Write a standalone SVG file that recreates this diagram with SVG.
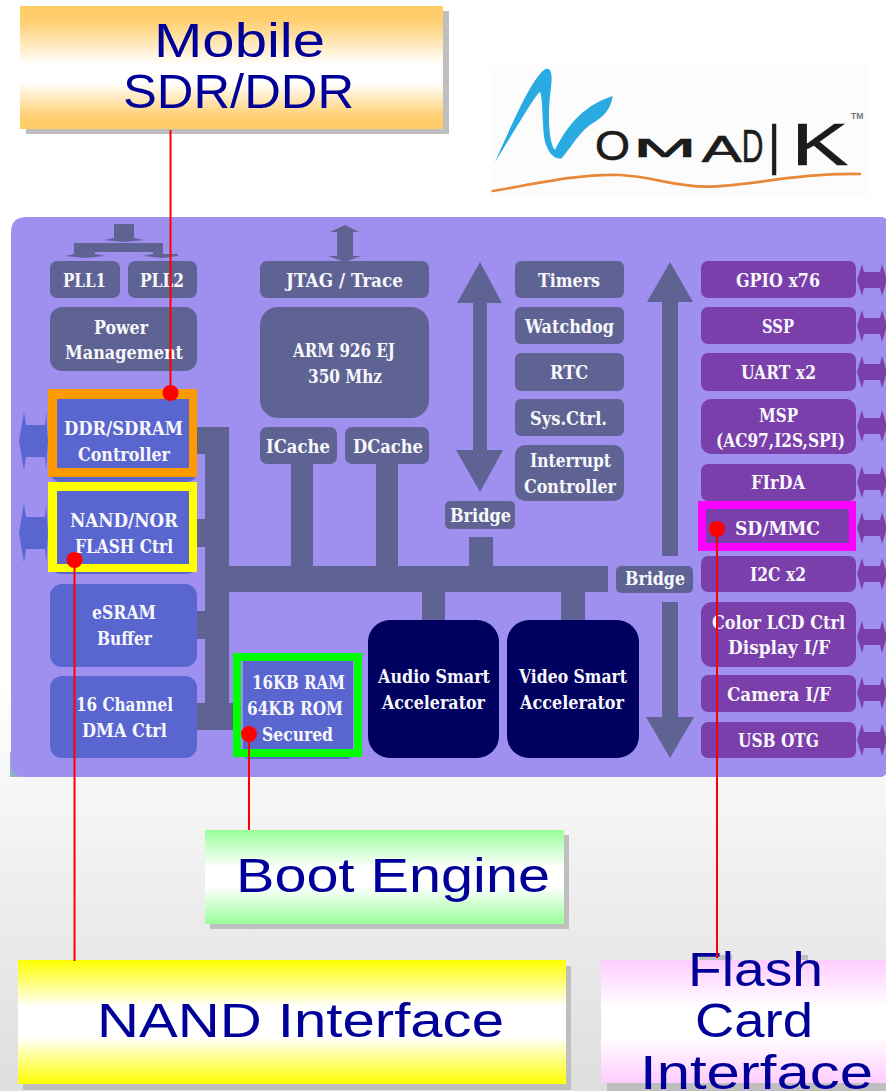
<svg xmlns="http://www.w3.org/2000/svg" width="886" height="1091" viewBox="0 0 886 1091">
<style>
.t{font-family:"DejaVu Serif","Liberation Serif",serif;font-weight:700;font-size:19px;fill:#f8f8fc;}
.c{font-family:"Liberation Sans",Arial,sans-serif;font-size:49px;fill:#000099;}
.g{fill:#5f6393;}.b{fill:#5a66cf;}.p{fill:#7a3faa;}.n{fill:#000060;}
.s{fill:#bfbfbf;}
.l{stroke:#f00;stroke-width:2;fill:none;}
.d{fill:#f00;}
</style>
<defs>
<linearGradient id="bg" x1="0" y1="0" x2="0" y2="1"><stop offset="0.62" stop-color="#fff"/><stop offset="1" stop-color="#dedede"/></linearGradient>
<linearGradient id="go" x1="0" y1="0" x2="0" y2="1"><stop offset="0" stop-color="#ffcc66"/><stop offset=".12" stop-color="#ffcf70"/><stop offset=".48" stop-color="#fff"/><stop offset=".62" stop-color="#fff"/><stop offset=".9" stop-color="#ffcf70"/><stop offset="1" stop-color="#ffcc66"/></linearGradient>
<linearGradient id="gg" x1="0" y1="0" x2="0" y2="1"><stop offset="0" stop-color="#99ff99"/><stop offset=".4" stop-color="#fff"/><stop offset=".6" stop-color="#fff"/><stop offset="1" stop-color="#99ff99"/></linearGradient>
<linearGradient id="gy" x1="0" y1="0" x2="0" y2="1"><stop offset="0" stop-color="#ffff00"/><stop offset=".38" stop-color="#fff"/><stop offset=".62" stop-color="#fff"/><stop offset="1" stop-color="#ffff00"/></linearGradient>
<linearGradient id="gp" x1="0" y1="0" x2="0" y2="1"><stop offset="0" stop-color="#ffccff"/><stop offset=".38" stop-color="#fff"/><stop offset=".62" stop-color="#fff"/><stop offset="1" stop-color="#ffccff"/></linearGradient>
<path id="ioR" d="M857 0L862 -16L864 -8H880L882 -16L887 0L882 16L880 8H864L862 16Z"/>
</defs>
<rect width="886" height="1091" fill="url(#bg)"/>

<g id="logo" transform="translate(480 50) scale(.3333)">
<rect x="30" y="45" width="1135" height="395" fill="#fdfcfd"/>
<path fill="#29aae1" d="M45 335C90 240 150 90 195 58C215 50 218 75 212 120C203 190 205 280 225 300C255 240 300 170 398 138C395 165 380 195 345 215C300 240 275 290 245 325C225 330 205 310 195 275C185 220 190 150 180 125C165 135 100 250 45 335Z"/>
<path fill="none" stroke="#e8893a" stroke-width="8" stroke-linecap="round" d="M38 423C150 405 300 370 420 375C520 380 580 410 680 410C800 410 950 368 1140 372"/>
<text font-family="'Liberation Sans',sans-serif" fill="#1c1c1c" stroke="#1c1c1c" stroke-width="2"><tspan x="345" y="330" font-size="130" textLength="105" lengthAdjust="spacingAndGlyphs">O</tspan><tspan x="460" y="322" font-size="80" textLength="190" lengthAdjust="spacingAndGlyphs">M</tspan><tspan x="665" y="335" font-size="110" textLength="120" lengthAdjust="spacingAndGlyphs">A</tspan><tspan x="785" y="335" font-size="140" textLength="65" lengthAdjust="spacingAndGlyphs">D</tspan><tspan x="865" y="375" font-size="220" textLength="35" lengthAdjust="spacingAndGlyphs">I</tspan><tspan x="935" y="345" font-size="180" textLength="170" lengthAdjust="spacingAndGlyphs">K</tspan></text>
<text x="1113" y="208" font-family="'Liberation Sans',sans-serif" font-size="26" font-weight="700" fill="#777">TM</text>
</g>

<g id="panel">
<path d="M10 752H32V777H10Z" fill="#8fb3c4"/>
<path d="M27 217H881Q887 217 887 223V769Q887 777 879 777H26Q11 777 11 762V232Q11 217 27 217Z" fill="#9f90f0"/>
</g>

<g id="mobile-sdr-ddr"><rect class="s" x="26" y="11" width="423" height="123"/><rect x="20" y="6" width="423" height="123" fill="url(#go)"/><text class="c" x="154" y="57" textLength="171" lengthAdjust="spacingAndGlyphs">Mobile</text><text class="c" x="123" y="108" textLength="231" lengthAdjust="spacingAndGlyphs">SDR/DDR</text></g>
<g id="boot-engine"><rect class="s" x="210" y="835" width="359" height="94"/><rect x="205" y="830" width="359" height="94" fill="url(#gg)"/><text class="c" x="236" y="892" textLength="314" lengthAdjust="spacingAndGlyphs">Boot Engine</text></g>
<g id="nand-interface"><rect class="s" x="23" y="966" width="548" height="124"/><rect x="18" y="960" width="548" height="124" fill="url(#gy)"/><text class="c" x="97" y="1037" textLength="407" lengthAdjust="spacingAndGlyphs">NAND Interface</text></g>
<g id="flash-card-interface"><rect class="s" x="699" y="955" width="33" height="6"/><rect class="s" x="797" y="955" width="11" height="6"/><rect class="s" x="607" y="966" width="279" height="125"/><rect x="601" y="960" width="285" height="123" fill="url(#gp)"/><text class="c" x="688" y="986" textLength="135" lengthAdjust="spacingAndGlyphs">Flash</text><text class="c" x="695" y="1037" textLength="118" lengthAdjust="spacingAndGlyphs">Card</text><text class="c" x="640" y="1089" textLength="233" lengthAdjust="spacingAndGlyphs">Interface</text></g>

<g id="pll1"><rect class="g" x="50" y="261" width="70" height="37" rx="7"/><text class="t" x="63" y="287" textLength="43" lengthAdjust="spacingAndGlyphs">PLL1</text></g>
<g id="pll2"><rect class="g" x="128" y="261" width="69" height="37" rx="7"/><text class="t" x="140" y="287" textLength="44" lengthAdjust="spacingAndGlyphs">PLL2</text></g>
<g id="power"><rect class="g" x="50" y="307" width="147" height="64" rx="12"/><text class="t" x="94" y="334" textLength="54" lengthAdjust="spacingAndGlyphs">Power</text><text class="t" x="65" y="359" textLength="118" lengthAdjust="spacingAndGlyphs">Management</text></g>
<g id="jtag"><rect class="g" x="260" y="261" width="169" height="37" rx="7"/><text class="t" x="286" y="287" textLength="117" lengthAdjust="spacingAndGlyphs">JTAG / Trace</text></g>
<g id="arm"><rect class="g" x="260" y="307" width="169" height="111" rx="18"/><text class="t" x="293" y="357" textLength="102" lengthAdjust="spacingAndGlyphs">ARM 926 EJ</text><text class="t" x="308" y="383" textLength="74" lengthAdjust="spacingAndGlyphs">350 Mhz</text></g>
<g id="icache"><rect class="g" x="260" y="427" width="77" height="37" rx="7"/><text class="t" x="266" y="453" textLength="64" lengthAdjust="spacingAndGlyphs">ICache</text></g>
<g id="dcache"><rect class="g" x="345" y="427" width="84" height="37" rx="7"/><text class="t" x="353" y="453" textLength="70" lengthAdjust="spacingAndGlyphs">DCache</text></g>

<g id="ddr"><rect class="b" x="50" y="392" width="147" height="90" rx="10"/><path fill="#ff9900" fill-rule="evenodd" d="M48 389H197V477H48ZM57 399V468H189V399Z"/><text class="t" x="64" y="435" textLength="119" lengthAdjust="spacingAndGlyphs">DDR/SDRAM</text><text class="t" x="78" y="461" textLength="92" lengthAdjust="spacingAndGlyphs">Controller</text></g>
<g id="nand"><rect class="b" x="50" y="484" width="147" height="90" rx="10"/><path fill="#ffff00" fill-rule="evenodd" d="M48 482H197V572H48ZM57 491V564H189V491Z"/><text class="t" x="70" y="527" textLength="108" lengthAdjust="spacingAndGlyphs">NAND/NOR</text><text class="t" x="75" y="553" textLength="98" lengthAdjust="spacingAndGlyphs">FLASH Ctrl</text></g>
<g id="esram"><rect class="b" x="50" y="584" width="147" height="83" rx="12"/><text class="t" x="92" y="619" textLength="64" lengthAdjust="spacingAndGlyphs">eSRAM</text><text class="t" x="97" y="645" textLength="55" lengthAdjust="spacingAndGlyphs">Buffer</text></g>
<g id="dma"><rect class="b" x="50" y="676" width="147" height="82" rx="12"/><text class="t" x="76" y="711" textLength="97" lengthAdjust="spacingAndGlyphs">16 Channel</text><text class="t" x="82" y="737" textLength="85" lengthAdjust="spacingAndGlyphs">DMA Ctrl</text></g>
<g id="ram-rom"><rect class="b" x="243" y="655" width="110" height="104" rx="6"/><path fill="#00ff00" fill-rule="evenodd" d="M233 653H362V757H233ZM241 661V749H354V661Z"/><text class="t" x="252" y="689" textLength="93" lengthAdjust="spacingAndGlyphs">16KB RAM</text><text class="t" x="247" y="715" textLength="96" lengthAdjust="spacingAndGlyphs">64KB ROM</text><text class="t" x="262" y="741" textLength="71" lengthAdjust="spacingAndGlyphs">Secured</text></g>
<g id="audio"><rect class="n" x="368" y="620" width="131" height="138" rx="22"/><text class="t" x="378" y="683" textLength="112" lengthAdjust="spacingAndGlyphs">Audio Smart</text><text class="t" x="382" y="709" textLength="103" lengthAdjust="spacingAndGlyphs">Accelerator</text></g>
<g id="video"><rect class="n" x="507" y="620" width="132" height="138" rx="22"/><text class="t" x="519" y="683" textLength="108" lengthAdjust="spacingAndGlyphs">Video Smart</text><text class="t" x="520" y="709" textLength="104" lengthAdjust="spacingAndGlyphs">Accelerator</text></g>
<g id="bridge1"><rect class="g" x="445" y="501" width="70" height="28" rx="5"/><text class="t" x="450" y="522" textLength="61" lengthAdjust="spacingAndGlyphs">Bridge</text></g>
<g id="bridge2"><rect class="g" x="616" y="566" width="77" height="27" rx="5"/><text class="t" x="625" y="585" textLength="60" lengthAdjust="spacingAndGlyphs">Bridge</text></g>

<g id="timers"><rect class="g" x="515" y="261" width="109" height="37" rx="6"/><text class="t" x="538" y="287" textLength="62" lengthAdjust="spacingAndGlyphs">Timers</text></g>
<g id="watchdog"><rect class="g" x="515" y="307" width="109" height="37" rx="6"/><text class="t" x="525" y="333" textLength="89" lengthAdjust="spacingAndGlyphs">Watchdog</text></g>
<g id="rtc"><rect class="g" x="515" y="353" width="109" height="38" rx="6"/><text class="t" x="550" y="379" textLength="38" lengthAdjust="spacingAndGlyphs">RTC</text></g>
<g id="sysctrl"><rect class="g" x="515" y="399" width="109" height="37" rx="6"/><text class="t" x="530" y="425" textLength="77" lengthAdjust="spacingAndGlyphs">Sys.Ctrl.</text></g>
<g id="interrupt"><rect class="g" x="515" y="445" width="109" height="56" rx="10"/><text class="t" x="530" y="467" textLength="81" lengthAdjust="spacingAndGlyphs">Interrupt</text><text class="t" x="524" y="493" textLength="92" lengthAdjust="spacingAndGlyphs">Controller</text></g>

<g id="gpio"><rect class="p" x="701" y="261" width="155" height="37" rx="7"/><text class="t" x="736" y="287" textLength="84" lengthAdjust="spacingAndGlyphs">GPIO x76</text></g>
<g id="ssp"><rect class="p" x="701" y="307" width="155" height="37" rx="7"/><text class="t" x="762" y="333" textLength="32" lengthAdjust="spacingAndGlyphs">SSP</text></g>
<g id="uart"><rect class="p" x="701" y="353" width="155" height="38" rx="7"/><text class="t" x="741" y="379" textLength="75" lengthAdjust="spacingAndGlyphs">UART x2</text></g>
<g id="msp"><rect class="p" x="701" y="399" width="155" height="55" rx="10"/><text class="t" x="759" y="422" textLength="39" lengthAdjust="spacingAndGlyphs">MSP</text><text class="t" x="716" y="447" textLength="129" lengthAdjust="spacingAndGlyphs">(AC97,I2S,SPI)</text></g>
<g id="firda"><rect class="p" x="701" y="464" width="155" height="37" rx="7"/><text class="t" x="751" y="489" textLength="54" lengthAdjust="spacingAndGlyphs">FIrDA</text></g>
<g id="sdmmc"><rect class="p" x="701" y="505" width="155" height="42"/><path fill="#ff00ff" fill-rule="evenodd" d="M698 501H856V551H698ZM706 509V543H849V509Z"/><text class="t" x="735" y="535" textLength="85" lengthAdjust="spacingAndGlyphs">SD/MMC</text></g>
<g id="i2c"><rect class="p" x="701" y="556" width="155" height="36" rx="7"/><text class="t" x="750" y="581" textLength="56" lengthAdjust="spacingAndGlyphs">I2C x2</text></g>
<g id="lcd"><rect class="p" x="701" y="602" width="155" height="65" rx="11"/><text class="t" x="712" y="629" textLength="133" lengthAdjust="spacingAndGlyphs">Color LCD Ctrl</text><text class="t" x="728" y="654" textLength="102" lengthAdjust="spacingAndGlyphs">Display I/F</text></g>
<g id="camera"><rect class="p" x="701" y="675" width="155" height="37" rx="7"/><text class="t" x="727" y="701" textLength="104" lengthAdjust="spacingAndGlyphs">Camera I/F</text></g>
<g id="usb"><rect class="p" x="701" y="722" width="155" height="36" rx="7"/><text class="t" x="738" y="747" textLength="81" lengthAdjust="spacingAndGlyphs">USB OTG</text></g>

<g id="connectors">
<path class="g" d="M197 427H229V566H291V464H313V566H376V464H398V566H469V537H493V566H608V592H585V620H561V592H445V620H422V592H229V730H197V703H205V639H197V611H205V547H197V519H205V454H197Z"/>
<path class="g" d="M229 703H233V730H229Z"/>
<path class="g" d="M480 262L502 303H487V450H503L480 492L456 450H473V303H457Z"/>
<path class="g" d="M670 262L693 302H678V556H662V302H647Z"/>
<path class="g" d="M662 602H678V717H694L670 758L646 717H662Z"/>
<path class="g" d="M345 225L359 232H353V256L361 256L345 262L328 256L337 256V232H330Z"/>
<path class="g" d="M114 224H134V238L144 240L124 242L104 240L114 238V243H163V254H178V256L163 258L143 256L153 254V252H95V254L105 256L85 258L65 256L74 254V243H114Z"/>
<g class="p"><use href="#ioR" y="280"/><use href="#ioR" y="326"/><use href="#ioR" y="372"/><use href="#ioR" y="426"/><use href="#ioR" y="482"/><use href="#ioR" y="528"/><use href="#ioR" y="574"/><use href="#ioR" y="637"/><use href="#ioR" y="693"/><use href="#ioR" y="740"/></g>
<path class="b" d="M19 441L24 412L26 425H45L46 412L48 441L46 470L45 457H26L24 470Z"/>
<path class="b" d="M19 533L24 503L26 517H45L46 503L48 533L46 563L45 549H26L24 563Z"/>
<path class="l" d="M170.500 130V393M74.500 560V961M249 734V830M717 529V958"/>
<circle class="d" cx="170.500" cy="393" r="8"/><circle class="d" cx="74.500" cy="560" r="8"/><circle class="d" cx="249" cy="734" r="8"/><circle class="d" cx="717" cy="529" r="8"/>
</g>
</svg>
